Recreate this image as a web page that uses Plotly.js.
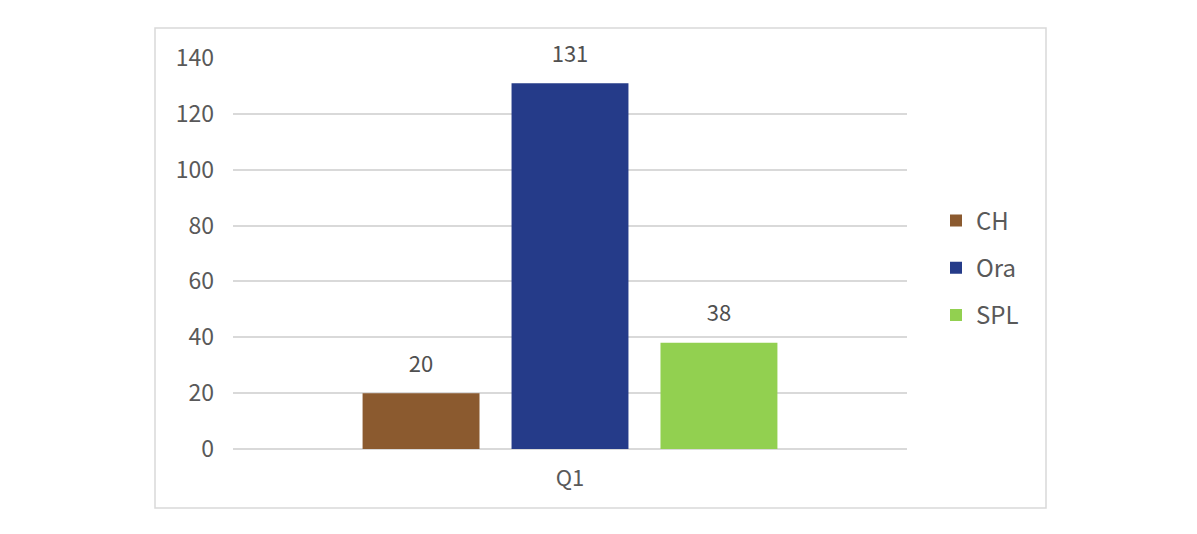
<!DOCTYPE html>
<html>
<head>
<meta charset="utf-8">
<script src="https://cdn.plot.ly/plotly-3.0.1.min.js"></script>
<style>html,body{margin:0;padding:0;background:#fff;}#chart{width:1197px;height:534px;}</style>
</head>
<body>
<div id="chart"></div>
<script>
const categories = ['Q1'];
const seriesNames = ['CH', 'Ora', 'SPL'];
const chValues = [20];
const oraValues = [131];
const splValues = [38];
const yTicks = [0, 20, 40, 60, 80, 100, 120, 140];

const colors = ['#8B5A2F', '#253B89', '#92D050'];
const valueSets = [chValues, oraValues, splValues];
const FONT = '"Noto Sans CJK SC", "Noto Sans", sans-serif';

const traces = seriesNames.map((name, i) => ({
  type: 'bar',
  name: name,
  legendgroup: name,
  x: categories,
  y: valueSets[i],
  marker: {color: colors[i]},
  text: valueSets[i].map(String),
  texttemplate: '<span style="font-size:22px">%{text}</span><br> ',
  textposition: 'outside',
  cliponaxis: false,
  textfont: {family: FONT, size: 12, color: '#505050'},
  hoverinfo: 'none'
}));

const L = 233, R = 907, T = 58, B = 449;
const pw = R - L, ph = B - T;
const px = v => (v - L) / pw;
const py = v => (B - v) / ph;

const layout = {
  width: 1197, height: 534,
  margin: {l: L, r: 1197 - R, t: T, b: 534 - B, pad: 0},
  paper_bgcolor: '#ffffff', plot_bgcolor: '#ffffff',
  font: {family: FONT, size: 22, color: '#595959'},
  barmode: 'group',
  bargap: 0.337,
  bargroupgap: 0.215,
  showlegend: true,
  legend: {
    x: px(936), y: py(268), xanchor: 'left', yanchor: 'middle',
    font: {family: FONT, size: 24, color: '#595959'},
    itemwidth: 30, tracegroupgap: 13,
    bgcolor: 'rgba(0,0,0,0)'
  },
  xaxis: {
    type: 'category',
    showgrid: false, zeroline: false, showline: false,
    ticks: '', ticklabelstandoff: 14,
    tickfont: {family: FONT, size: 22, color: '#595959'}
  },
  yaxis: {
    range: [0, 140],
    tickvals: yTicks,
    ticktext: yTicks.map(String),
    showgrid: true, gridcolor: '#D9D9D9', gridwidth: 2,
    zeroline: true, zerolinecolor: '#D9D9D9', zerolinewidth: 2,
    showline: false, ticks: '', ticklabelstandoff: 18,
    tickfont: {family: FONT, size: 23, color: '#595959'}
  },
  shapes: [{
    type: 'rect', xref: 'paper', yref: 'paper',
    x0: px(155), x1: px(1046), y0: py(508), y1: py(28),
    line: {color: '#D9D9D9', width: 1.5}, fillcolor: 'rgba(0,0,0,0)', layer: 'below'
  }]
};

Plotly.newPlot('chart', traces, layout, {displayModeBar: false, staticPlot: true});
</script>
</body>
</html>
